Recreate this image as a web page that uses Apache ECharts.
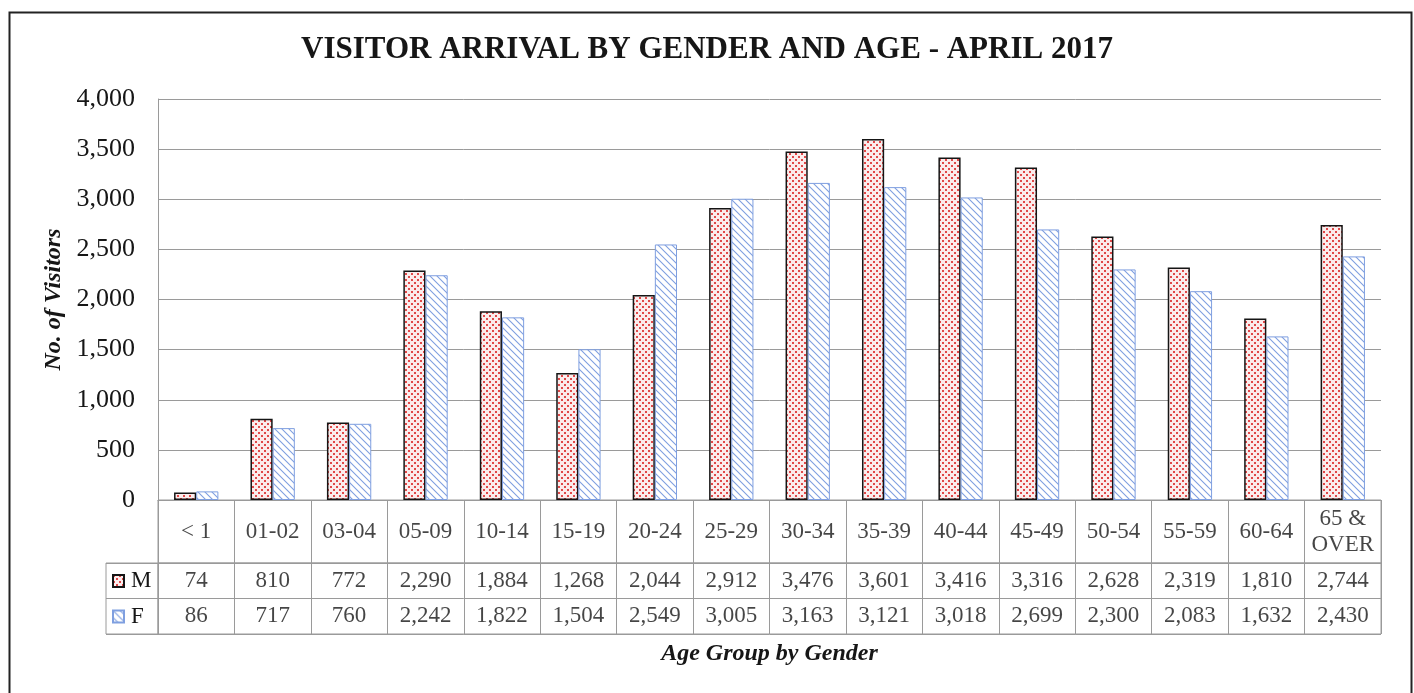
<!DOCTYPE html>
<html>
<head>
<meta charset="utf-8">
<title>Visitor arrival by gender and age - April 2017</title>
<script src="https://cdn.jsdelivr.net/npm/echarts@6/dist/echarts.min.js"></script>
<style>
  html, body { margin: 0; padding: 0; background: #fff; }
  #chart { width: 1414px; height: 693px; }
</style>
</head>
<body>
<div id="chart"></div>
<script>
const ageGroups = ['< 1', '01-02', '03-04', '05-09', '10-14', '15-19', '20-24', '25-29',
  '30-34', '35-39', '40-44', '45-49', '50-54', '55-59', '60-64', '65 &\nOVER']
const maleVisitors = [74, 810, 772, 2290, 1884, 1268, 2044, 2912, 3476, 3601, 3416, 3316, 2628, 2319, 1810, 2744]
const femaleVisitors = [86, 717, 760, 2242, 1822, 1504, 2549, 3005, 3163, 3121, 3018, 2699, 2300, 2083, 1632, 2430]
const genders = ['M', 'F']
const yTicks = { min: 0, max: 4000, interval: 500 }

const FONT = "'Liberation Serif', 'Times New Roman', serif"
const TEXT = '#161616'
const LINE = '#9a9a9a'

const fmt = v => Number(v).toLocaleString('en-US')

// red dotted fill for M
function dotPattern() {
  const c = document.createElement('canvas')
  c.width = 6; c.height = 6
  const ctx = c.getContext('2d')
  ctx.fillStyle = '#fbecec'
  ctx.fillRect(0, 0, 6, 6)
  ctx.fillStyle = '#e04848'
  ctx.fillRect(0, 0, 2, 2)
  ctx.fillRect(3, 3, 2, 2)
  return c
}

// blue diagonal hatch for F
function hatchPattern() {
  const c = document.createElement('canvas')
  c.width = 7; c.height = 7
  const ctx = c.getContext('2d')
  ctx.fillStyle = '#ffffff'
  ctx.fillRect(0, 0, 7, 7)
  ctx.strokeStyle = '#7f9fe0'
  ctx.lineWidth = 1.1
  ctx.beginPath()
  ctx.moveTo(-1, -1); ctx.lineTo(8, 8)
  ctx.moveTo(-1, 6); ctx.lineTo(1, 8)
  ctx.moveTo(6, -1); ctx.lineTo(8, 1)
  ctx.stroke()
  return c
}

const maleStyle = { color: { image: dotPattern(), repeat: 'repeat' }, borderColor: '#151515', borderWidth: 1.5 }
const femaleStyle = { color: { image: hatchPattern(), repeat: 'repeat' }, borderColor: '#7f9fe0', borderWidth: 1 }

const cellLabel = {
  show: true, position: 'inside', color: TEXT, fontFamily: FONT, fontSize: 23, lineHeight: 26,
  align: 'center', verticalAlign: 'middle'
}

const chart = echarts.init(document.getElementById('chart'))

chart.setOption({
  animation: false,
  backgroundColor: '#fff',
  title: {
    text: 'VISITOR ARRIVAL BY GENDER AND AGE - APRIL 2017',
    left: 'center', top: 34, padding: 0,
    textStyle: { fontFamily: FONT, fontSize: 31, fontWeight: 'bold', color: TEXT }
  },
  legend: {
    data: genders,
    orient: 'vertical',
    left: 112, top: 569.5, padding: 0,
    itemWidth: 11, itemHeight: 12, itemGap: 12.5,
    icon: 'rect',
    selectedMode: false,
    textStyle: { fontFamily: FONT, fontSize: 23, lineHeight: 23, color: TEXT, padding: [0, 0, 0, 2] }
  },
  graphic: [{
    type: 'rect', left: 7, top: 10, silent: true,
    shape: { width: 1402, height: 700 },
    style: { fill: 'none', stroke: '#222', lineWidth: 2 }
  }],
  grid: [
    { left: 158, right: 33, top: 99, height: 401 },
    { left: 158, right: 33, top: 500, height: 63, show: true, borderColor: LINE, borderWidth: 1 },
    { left: 158, right: 33, top: 563, height: 71, show: true, borderColor: LINE, borderWidth: 1 },
    { left: 106, width: 52, top: 563, height: 71, show: true, borderColor: LINE, borderWidth: 1 }
  ],
  xAxis: [
    {
      gridIndex: 0, type: 'category', data: ageGroups,
      axisLine: { lineStyle: { color: LINE } }, axisTick: { show: false }, axisLabel: { show: false }
    },
    {
      gridIndex: 1, type: 'category', data: ageGroups,
      axisLine: { show: false }, axisTick: { show: false }, axisLabel: { show: false },
      splitLine: { show: true, interval: 0, lineStyle: { color: LINE } }
    },
    {
      gridIndex: 2, type: 'category', data: ageGroups,
      axisLine: { show: false }, axisTick: { show: false }, axisLabel: { show: false },
      splitLine: { show: true, interval: 0, lineStyle: { color: LINE } },
      name: 'Age Group by Gender', nameLocation: 'middle', nameGap: 8,
      nameTextStyle: { fontFamily: FONT, fontSize: 24, fontStyle: 'italic', fontWeight: 'bold', color: TEXT, verticalAlign: 'top' }
    },
    { gridIndex: 3, type: 'value', show: false }
  ],
  yAxis: [
    {
      gridIndex: 0, type: 'value', min: yTicks.min, max: yTicks.max, interval: yTicks.interval,
      axisLine: { show: true, lineStyle: { color: LINE } }, axisTick: { show: false },
      axisLabel: { formatter: fmt, fontFamily: FONT, fontSize: 26, color: TEXT, margin: 23 },
      splitLine: { lineStyle: { color: LINE } },
      name: 'No. of Visitors', nameLocation: 'middle', nameGap: 90,
      nameTextStyle: { fontFamily: FONT, fontSize: 24, fontStyle: 'italic', fontWeight: 'bold', color: TEXT }
    },
    { gridIndex: 1, type: 'value', min: 0, max: 1, show: false },
    {
      gridIndex: 2, type: 'category', data: genders, inverse: true,
      axisLine: { show: false }, axisTick: { show: false }, axisLabel: { show: false },
      splitLine: { show: true, interval: 0, lineStyle: { color: LINE } }
    },
    {
      gridIndex: 3, type: 'category', data: genders, inverse: true,
      axisLine: { show: false }, axisTick: { show: false }, axisLabel: { show: false },
      splitLine: { show: true, interval: 0, lineStyle: { color: LINE } }
    }
  ],
  series: [
    {
      name: 'M', type: 'bar', xAxisIndex: 0, yAxisIndex: 0, data: maleVisitors,
      barGap: '0%', barCategoryGap: '42%', itemStyle: maleStyle
    },
    {
      name: 'F', type: 'bar', xAxisIndex: 0, yAxisIndex: 0, data: femaleVisitors,
      itemStyle: femaleStyle
    },
    {
      name: 'header', type: 'scatter', xAxisIndex: 1, yAxisIndex: 1, symbolSize: 0, silent: true,
      data: ageGroups.map(a => [a, 0.5]),
      label: { ...cellLabel, formatter: p => p.value[0] }
    },
    {
      name: 'M values', type: 'scatter', xAxisIndex: 2, yAxisIndex: 2, symbolSize: 0, silent: true,
      data: maleVisitors.map((v, i) => [ageGroups[i], 'M', v]),
      label: { ...cellLabel, formatter: p => fmt(p.value[2]) }
    },
    {
      name: 'F values', type: 'scatter', xAxisIndex: 2, yAxisIndex: 2, symbolSize: 0, silent: true,
      data: femaleVisitors.map((v, i) => [ageGroups[i], 'F', v]),
      label: { ...cellLabel, formatter: p => fmt(p.value[2]) }
    }
  ]
})
</script>
</body>
</html>
